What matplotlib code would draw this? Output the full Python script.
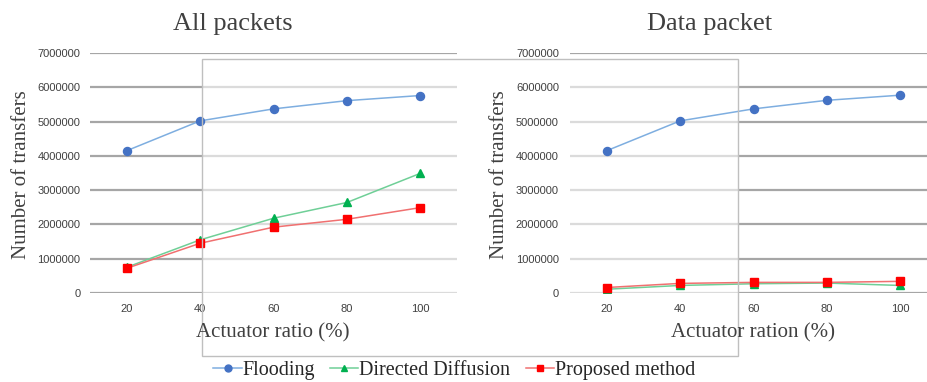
import matplotlib.pyplot as plt
from matplotlib.patches import Rectangle
from matplotlib.lines import Line2D

# data
ratios = ['20', '40', '60', '80', '100']
all_flooding = [4150000, 5020000, 5370000, 5610000, 5760000]
all_dd = [750000, 1550000, 2180000, 2640000, 3490000]
all_proposed = [720000, 1450000, 1920000, 2150000, 2490000]
data_flooding = [4150000, 5020000, 5370000, 5620000, 5770000]
data_dd = [110000, 220000, 270000, 290000, 220000]
data_proposed = [160000, 280000, 310000, 310000, 340000]

series_names = ['Flooding', 'Directed Diffusion', 'Proposed method']
marker_colors = ['#4472c4', '#00b050', '#ff0000']
line_colors = ['#7eaee0', '#6fcf97', '#f07070']
markers = ['o', '^', 's']
marker_sizes = [5.8, 5.8, 5.6]

W, H = 927, 382
fig = plt.figure(figsize=(W / 100, H / 100), dpi=100)
serif = 'Liberation Serif'

# overlay box from the screenshot (pixel coords)
box = (202, 59, 738, 356)


def px_rect(x0, y0, x1, y1):
    return [x0 / W, 1 - y1 / H, (x1 - x0) / W, (y1 - y0) / H]


def draw_panel(rect, series, xlabel, xlab_x, title, title_x, ylab_x, tickpad):
    ax = fig.add_axes(px_rect(*rect))
    ax.set_facecolor('none')
    x = range(len(ratios))
    ax.set_xlim(-0.5, len(ratios) - 0.5)
    ax.set_ylim(0, 7000000)
    ax.set_yticks(range(0, 7000001, 1000000))
    ax.set_xticks(list(x))
    ax.set_xticklabels(ratios)
    ax.yaxis.set_major_formatter(plt.FuncFormatter(lambda v, p: '%d' % v))
    ax.grid(axis='y', color='#a6a6a6', linewidth=1.6, zorder=0.5)
    ax.set_axisbelow(True)
    for s in ax.spines.values():
        s.set_visible(False)
    ax.tick_params(length=0, labelsize=8, labelcolor='#404040')
    ax.tick_params(axis='y', pad=tickpad)
    ax.tick_params(axis='x', pad=8)
    for lab in ax.get_xticklabels() + ax.get_yticklabels():
        lab.set_family('Liberation Sans')
    # white veil of the overlapping box, only over the gridlines
    ax.add_patch(Rectangle((box[0] / W, 1 - box[3] / H), (box[2] - box[0]) / W,
                           (box[3] - box[1]) / H, transform=fig.transFigure,
                           facecolor='white', alpha=0.6, edgecolor='none', zorder=1))
    for vals, mc, lc, m, ms in zip(series, marker_colors, line_colors, markers, marker_sizes):
        ax.plot(x, vals, color=lc, linewidth=1.1, zorder=2)
        ax.plot(x, vals, linestyle='none', marker=m, markersize=ms,
                color=mc, zorder=3)
    fig.text(title_x / W, 1 - 24 / H, title, family=serif, fontsize=19,
             color='#404040', ha='center', va='center')
    fig.text(ylab_x / W, 1 - 175 / H, 'Number of transfers', family=serif,
             fontsize=15, color='#404040', rotation=90, ha='center', va='center')
    fig.text(xlab_x / W, 1 - 333 / H, xlabel, family=serif, fontsize=15,
             color='#404040', ha='center', va='center')
    return ax


draw_panel((90, 53, 457, 293), [all_flooding, all_dd, all_proposed],
           'Actuator ratio (%)', 273, 'All packets', 233, 22, 7)
draw_panel((570, 53, 937, 293), [data_flooding, data_dd, data_proposed],
           'Actuator ration (%)', 753, 'Data packet', 710, 500, 8)

# outline of the overlapping box
fig.add_artist(Rectangle((box[0] / W, 1 - box[3] / H), (box[2] - box[0]) / W,
                         (box[3] - box[1]) / H, transform=fig.transFigure,
                         facecolor='none', edgecolor='#bfbfbf', linewidth=1))

handles = [Line2D([], [], color=lc, marker=m, markerfacecolor=mc,
                  markeredgecolor=mc, markersize=5, linewidth=1.1)
           for mc, lc, m in zip(marker_colors, line_colors, markers)]
fig.legend(handles, series_names, loc='center', bbox_to_anchor=(0.49, 1 - 370 / H),
           ncol=3, frameon=False, prop={'family': serif, 'size': 14.5},
           handlelength=1.4, handletextpad=0.05, columnspacing=0.75,
           labelcolor='#262626')

fig.savefig('out.png', dpi=100)
